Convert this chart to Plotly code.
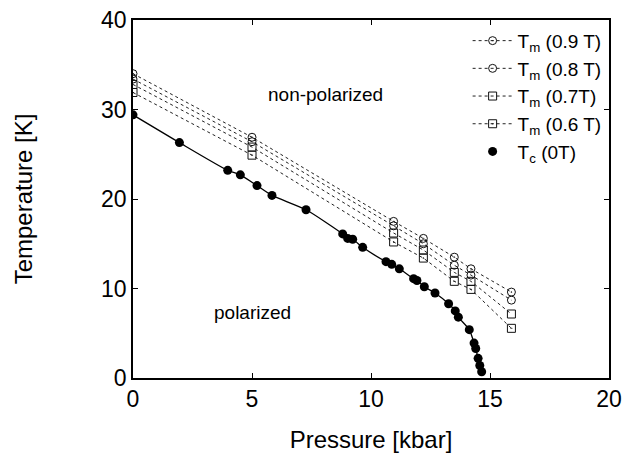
import plotly.graph_objects as go

# Tc (0 T) data
tc_p = [0, 1.95, 3.98, 4.51, 5.21, 5.84, 7.27, 8.81, 9.02, 9.23, 9.65, 10.63, 10.87, 11.19,
        11.79, 11.93, 12.24, 12.69, 13.26, 13.54, 13.67, 14.13, 14.33, 14.4, 14.5, 14.57, 14.65]
tc_t = [29.4, 26.3, 23.2, 22.7, 21.5, 20.4, 18.8, 16.1, 15.6, 15.5, 14.6, 13.0, 12.7, 12.2,
        11.1, 10.9, 10.2, 9.5, 8.3, 7.5, 6.8, 5.4, 3.9, 3.3, 2.2, 1.4, 0.7]

# Tm data
tm_p = [0, 5.0, 10.95, 12.2, 13.5, 14.2, 15.9]
tm_09 = [34.0, 26.9, 17.5, 15.6, 13.5, 12.2, 9.6]
tm_08 = [33.4, 26.4, 17.0, 15.0, 12.6, 11.5, 8.7]
tm_07 = [32.8, 25.8, 16.2, 14.3, 11.8, 10.8, 7.15]
tm_06 = [31.9, 24.9, 15.2, 13.4, 10.8, 9.9, 5.55]

tm_names = ["T<sub>m</sub> (0.9 T)", "T<sub>m</sub> (0.8 T)", "T<sub>m</sub> (0.7T)", "T<sub>m</sub> (0.6 T)"]
tm_symbols = ["circle-open-dot", "circle-open", "square-open", "square-open-dot"]

x_ticks = [0, 5, 10, 15, 20]
y_ticks = [0, 10, 20, 30, 40]

FONT = "Liberation Sans, Arial, Helvetica, sans-serif"

fig = go.Figure()

for name, sym, vals in zip(tm_names, tm_symbols, [tm_09, tm_08, tm_07, tm_06]):
    fig.add_trace(go.Scatter(
        x=tm_p, y=vals, mode="lines+markers", name=name,
        line=dict(color="#222", width=1, dash="dot"),
        marker=dict(symbol=sym, size=8, color="#111", line=dict(width=1, color="#111")),
    ))

fig.add_trace(go.Scatter(
    x=tc_p, y=tc_t, mode="lines", showlegend=False, hoverinfo="skip",
    line=dict(color="black", width=1.3, shape="spline", smoothing=0.6),
))
fig.add_trace(go.Scatter(
    x=tc_p, y=tc_t, mode="markers", name="T<sub>c</sub> (0T)",
    marker=dict(symbol="circle", size=9, color="black"),
))

fig.add_annotation(x=8.1, y=31.7, text="non-polarized", showarrow=False,
                   font=dict(size=19, color="black", family=FONT))
fig.add_annotation(x=5.0, y=7.3, text="polarized", showarrow=False,
                   font=dict(size=19, color="black", family=FONT))

axis_common = dict(showline=True, linecolor="black", linewidth=1.5, mirror="ticks",
                   ticks="inside", ticklen=5, tickcolor="black", tickwidth=1,
                   showgrid=False, zeroline=False, automargin=False,
                   ticklabeloverflow="allow",
                   tickfont=dict(size=23, color="black", family=FONT))

fig.update_xaxes(range=[0, 20], tickvals=x_ticks, ticktext=[str(v) for v in x_ticks],
                 title=dict(text="Pressure [kbar]", font=dict(size=24, color="black", family=FONT), standoff=20),
                 **axis_common)
fig.update_yaxes(range=[0, 40], tickvals=y_ticks, ticktext=[str(v) for v in y_ticks],
                 title=dict(text="Temperature [K]", font=dict(size=24, color="black", family=FONT), standoff=62),
                 **axis_common)

# page body has an 8px default margin; figure sized/offset to compensate
fig.update_layout(
    width=636, height=463,
    margin=dict(l=125, r=35, t=12, b=93),
    plot_bgcolor="white", paper_bgcolor="white",
    font=dict(family=FONT, color="black"),
    legend=dict(x=0.995, y=0.995, xanchor="right", yanchor="top", bgcolor="rgba(0,0,0,0)",
                font=dict(size=19, color="black", family=FONT), tracegroupgap=0, itemwidth=40),
)

fig.write_html("out.html")
